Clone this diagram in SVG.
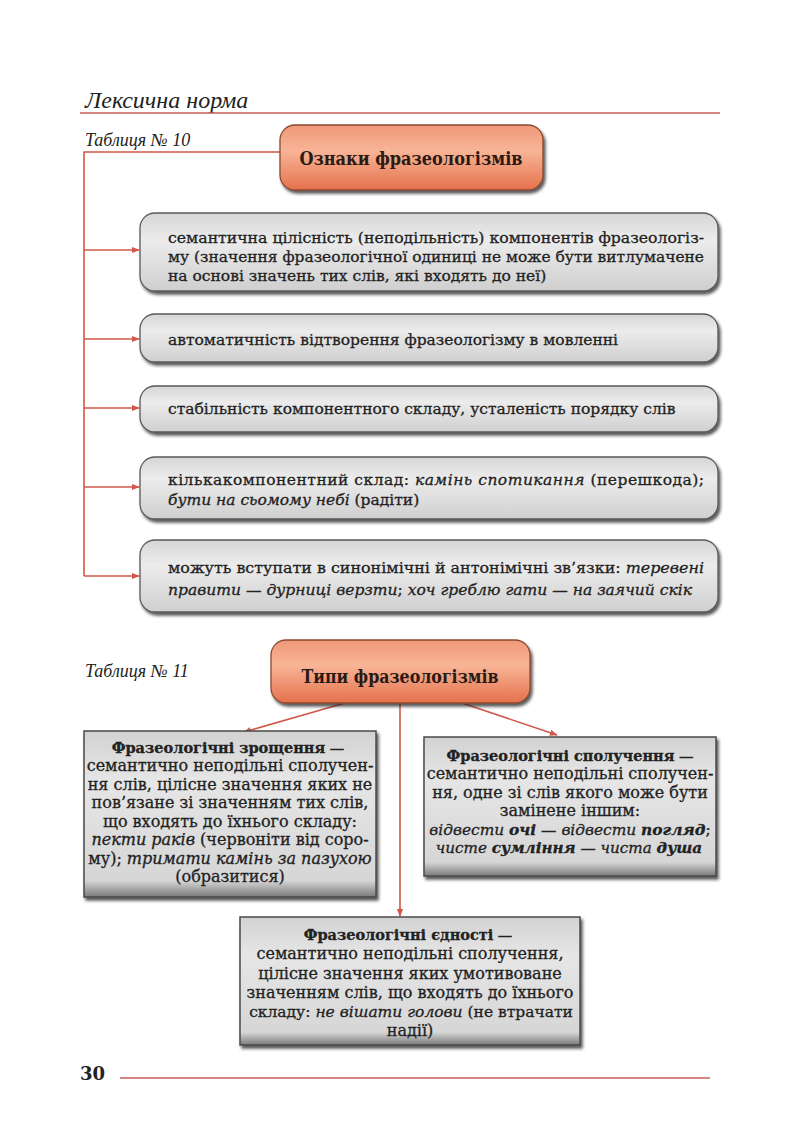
<svg xmlns="http://www.w3.org/2000/svg" width="800" height="1129" viewBox="0 0 800 1129">
<defs>
<style>
.t{font-family:"DejaVu Serif","Liberation Serif",serif;font-size:15.5px;fill:#222;stroke:#222;stroke-width:0.3}
.c{font-family:"DejaVu Serif","Liberation Serif",serif;font-size:16px;fill:#222;stroke:#222;stroke-width:0.3;text-anchor:middle}
.i{font-style:italic}
.b{font-weight:bold}
.h{font-size:14.5px}
.ttl{font-family:"DejaVu Serif","Liberation Serif",serif;font-size:18px;font-weight:bold;fill:#2a1a14;text-anchor:middle}
.tab{font-family:"Liberation Serif",serif;font-style:italic;font-size:18px;fill:#222}
.ln{stroke:#d0584a;stroke-width:1.6;fill:none}
.gbox{fill:url(#gg);stroke:#5a5a5a;stroke-width:1.3;filter:url(#sh)}
.obox{fill:url(#og);stroke:#8c4a32;stroke-width:1.3;filter:url(#sh)}
.rbox{fill:url(#gg2);stroke:#4a4a4a;stroke-width:1.5;filter:url(#sh)}
</style>
<linearGradient id="gg" x1="0" y1="0" x2="0" y2="1">
<stop offset="0" stop-color="#d6d6d6"/><stop offset="0.35" stop-color="#ececec"/><stop offset="1" stop-color="#cfcfcf"/>
</linearGradient>
<linearGradient id="gg2" x1="0" y1="0" x2="0" y2="1">
<stop offset="0" stop-color="#d2d2d2"/><stop offset="0.3" stop-color="#e6e6e6"/><stop offset="0.9" stop-color="#d6d6d6"/><stop offset="1" stop-color="#7a7a7a"/>
</linearGradient>
<linearGradient id="og" x1="0" y1="0" x2="0" y2="1">
<stop offset="0" stop-color="#f0987a"/><stop offset="0.4" stop-color="#f8b496"/><stop offset="1" stop-color="#e4714c"/>
</linearGradient>
<filter id="sh" x="-5%" y="-10%" width="115%" height="130%">
<feDropShadow dx="2" dy="3" stdDeviation="1.5" flood-color="#222" flood-opacity="0.75"/>
</filter>
<marker id="ah" viewBox="0 0 10 10" refX="9" refY="5" markerWidth="8" markerHeight="8" orient="auto" markerUnits="userSpaceOnUse">
<path d="M0,1 L10,5 L0,9 Z" fill="#d0584a"/>
</marker>
</defs>
<rect width="800" height="1129" fill="#ffffff"/>

<g id="header">
<text x="85" y="108" style="font-family:'Liberation Serif',serif;font-style:italic;font-size:24px;fill:#222">Лексична норма</text>
<line x1="80" y1="113" x2="720" y2="113" stroke="#c8625a" stroke-width="1.6"/>
<text class="tab" x="85" y="146">Таблиця № 10</text>
<text class="tab" x="85" y="677">Таблиця № 11</text>
</g>

<g id="connectors">
<polyline class="ln" points="280,152 84,152 84,576"/>
<line class="ln" x1="84" y1="250" x2="139" y2="250" marker-end="url(#ah)"/>
<line class="ln" x1="84" y1="339" x2="139" y2="339" marker-end="url(#ah)"/>
<line class="ln" x1="84" y1="408" x2="139" y2="408" marker-end="url(#ah)"/>
<line class="ln" x1="84" y1="487" x2="139" y2="487" marker-end="url(#ah)"/>
<line class="ln" x1="84" y1="576" x2="139" y2="576" marker-end="url(#ah)"/>
<line class="ln" x1="345" y1="703" x2="244" y2="732" marker-end="url(#ah)"/>
<line class="ln" x1="462" y1="703" x2="557" y2="735" marker-end="url(#ah)"/>
<line class="ln" x1="400" y1="703" x2="400" y2="916" marker-end="url(#ah)"/>
</g>

<g id="n-oznaky">
<rect class="obox" x="280" y="125" width="263" height="65" rx="15"/>
<text class="ttl" x="411" y="165" textLength="223" lengthAdjust="spacingAndGlyphs">Ознаки фразеологізмів</text>
</g>

<g id="n-1">
<rect class="gbox" x="140" y="213" width="578" height="78" rx="15"/>
<text class="t" x="168" y="243" textLength="536" lengthAdjust="spacingAndGlyphs">семантична цілісність (неподільність) компонентів фразеологіз-</text>
<text class="t" x="168" y="262" textLength="536" lengthAdjust="spacingAndGlyphs">му (значення фразеологічної одиниці не може бути витлумачене</text>
<text class="t" x="168" y="281">на основі значень тих слів, які входять до неї)</text>
</g>

<g id="n-2">
<rect class="gbox" x="140" y="314" width="578" height="48" rx="15"/>
<text class="t" x="168" y="345">автоматичність відтворення фразеологізму в мовленні</text>
</g>

<g id="n-3">
<rect class="gbox" x="140" y="386" width="578" height="46" rx="15"/>
<text class="t" x="168" y="414">стабільність компонентного складу, усталеність порядку слів</text>
</g>

<g id="n-4">
<rect class="gbox" x="140" y="457" width="578" height="62" rx="15"/>
<text class="t" x="168" y="485" textLength="536" lengthAdjust="spacing">кількакомпонентний склад: <tspan class="i">камінь спотикання</tspan> (перешкода);</text>
<text class="t" x="168" y="505"><tspan class="i">бути на сьомому небі</tspan> (радіти)</text>
</g>

<g id="n-5">
<rect class="gbox" x="140" y="540" width="578" height="72" rx="15"/>
<text class="t" x="168" y="573" textLength="536" lengthAdjust="spacingAndGlyphs">можуть вступати в синонімічні й антонімічні зв’язки: <tspan class="i">теревені</tspan></text>
<text class="t" x="168" y="595" textLength="524" lengthAdjust="spacingAndGlyphs"><tspan class="i">правити — дурниці верзти</tspan>; <tspan class="i">хоч греблю гати — на заячий скік</tspan></text>
</g>

<g id="n-typy">
<rect class="obox" x="271" y="640" width="259" height="63" rx="15"/>
<text class="ttl" x="400" y="683" textLength="197" lengthAdjust="spacingAndGlyphs">Типи фразеологізмів</text>
</g>

<g id="n-zroshchennia">
<rect class="rbox" x="84" y="731" width="292" height="166"/>
<text class="c h" x="228" y="753"><tspan class="b">Фразеологічні зрощення</tspan> —</text>
<text class="c" x="230" y="771">семантично неподільні сполучен-</text>
<text class="c" x="230" y="790">ня слів, цілісне значення яких не</text>
<text class="c" x="230" y="808">пов’язане зі значенням тих слів,</text>
<text class="c" x="230" y="827">що входять до їхнього складу:</text>
<text class="c" x="230" y="845"><tspan class="i">пекти раків</tspan> (червоніти від соро-</text>
<text class="c" x="230" y="864">му); <tspan class="i">тримати камінь за пазухою</tspan></text>
<text class="c" x="230" y="882">(образитися)</text>
</g>

<g id="n-spoluchennia">
<rect class="rbox" x="424" y="737" width="292" height="139"/>
<text class="c h" x="570" y="761"><tspan class="b">Фразеологічні сполучення</tspan> —</text>
<text class="c" x="570" y="779">семантично неподільні сполучен-</text>
<text class="c" x="570" y="798">ня, одне зі слів якого може бути</text>
<text class="c" x="570" y="816">замінене іншим:</text>
<text class="c" x="570" y="835" style="font-size:15.4px"><tspan class="i">відвести </tspan><tspan class="i b">очі</tspan><tspan class="i"> — відвести </tspan><tspan class="i b">погляд</tspan>;</text>
<text class="c" x="569" y="853" style="font-size:15.2px"><tspan class="i">чисте </tspan><tspan class="i b">сумління</tspan><tspan class="i"> — чиста </tspan><tspan class="i b">душа</tspan></text>
</g>

<g id="n-yednosti">
<rect class="rbox" x="240" y="917" width="340" height="128"/>
<text class="c h" x="408" y="940"><tspan class="b">Фразеологічні єдності</tspan> —</text>
<text class="c" x="410" y="959">семантично неподільні сполучення,</text>
<text class="c" x="410" y="979">цілісне значення яких умотивоване</text>
<text class="c" x="410" y="998">значенням слів, що входять до їхнього</text>
<text class="c" x="411" y="1017" style="font-size:15.5px">складу: <tspan class="i">не вішати голови</tspan> (не втрачати</text>
<text class="c" x="410" y="1036">надії)</text>
</g>

<g id="footer">
<text x="80" y="1080" style="font-family:'DejaVu Serif',serif;font-weight:bold;font-size:18px;fill:#222">30</text>
<line x1="120" y1="1078" x2="710" y2="1078" stroke="#c8625a" stroke-width="1.6"/>
</g>
</svg>
